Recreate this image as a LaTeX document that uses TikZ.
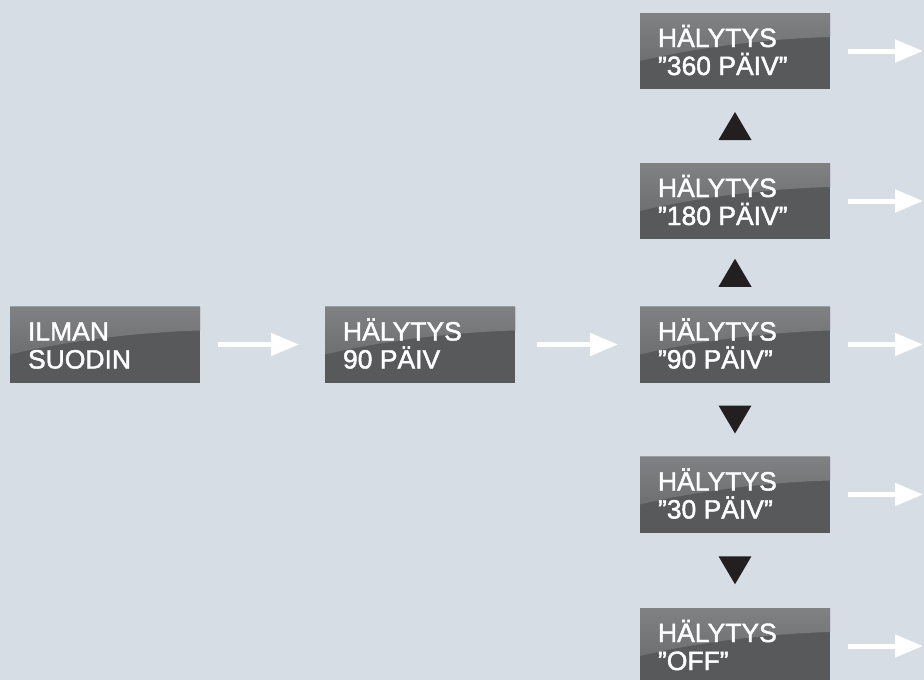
\documentclass[tikz,border=0pt]{standalone}
\usepackage{fontspec}
\setmainfont{Liberation Sans}
\newfontfamily\boxfont[FakeBold=1.6]{Liberation Sans}
\usetikzlibrary{arrows.meta,calc}
\definecolor{bgc}{RGB}{214,221,228}
\definecolor{boxdark}{RGB}{88,89,91}
\definecolor{glosstop}{RGB}{128,129,131}
\definecolor{glossbot}{RGB}{100,101,103}
\definecolor{tric}{RGB}{35,31,32}
\newcommand{\boxtext}[2]{\parbox[c][76pt][t]{190pt}{\raggedright\leftskip=18pt\relax\boxfont\fontsize{26.5pt}{28pt}\selectfont\rule{0pt}{34pt}#1\\#2}}
\begin{document}
\begin{tikzpicture}[x=1pt,y=-1pt,
  box/.style={rectangle, inner sep=0pt, outer sep=0pt, fill=boxdark, text=white,
    path picture={
      \fill[top color=glosstop, bottom color=glossbot]
        (path picture bounding box.north west) -- (path picture bounding box.north east)
        -- ($(path picture bounding box.north east)+(0,24)$)
        .. controls ($(path picture bounding box.north west)+(120,26)$) and ($(path picture bounding box.north west)+(50,36)$)
        .. ($(path picture bounding box.north west)+(0,48)$) -- cycle;
    }},
  warrow/.style={draw=white, line width=5pt, -{Triangle[length=28pt,width=22pt]}},
  updown/.style={fill=tric}
]
\fill[bgc] (0,0) rectangle (924,680);
\useasboundingbox (0,0) rectangle (924,680);
\coordinate (edge) at (923,0);

\node[box] (b1) at (105,344.5) {\boxtext{ILMAN}{SUODIN}};
\node[box] (b2) at (420,344.5) {\boxtext{HÄLYTYS}{90 PÄIV}};
\node[box] (r1) at (735,51) {\boxtext{HÄLYTYS}{”360 PÄIV”}};
\node[box] (r2) at (735,201) {\boxtext{HÄLYTYS}{”180 PÄIV”}};
\node[box] (r3) at (735,344.5) {\boxtext{HÄLYTYS}{”90 PÄIV”}};
\node[box] (r4) at (735,494.5) {\boxtext{HÄLYTYS}{”30 PÄIV”}};
\node[box] (r5) at (735,646) {\boxtext{HÄLYTYS}{”OFF”}};

\draw[warrow] ([xshift=18pt]b1.east) -- ([xshift=-26pt]b2.west);
\draw[warrow] ([xshift=22pt]b2.east) -- ([xshift=-22pt]r3.west);
\foreach \n in {r1,r2,r3,r4,r5}
  \draw[warrow] ([xshift=18pt]\n.east) -- (\n.east -| edge);

\fill[updown] ($(r1.south)!0.5!(r2.north)+(-16.5,14)$) -- ++(33,0) -- ++(-16.5,-28) -- cycle;
\fill[updown] ($(r2.south)!0.5!(r3.north)+(-16.5,14)$) -- ++(33,0) -- ++(-16.5,-28) -- cycle;
\fill[updown] ($(r3.south)!0.5!(r4.north)+(-16.5,-14)$) -- ++(33,0) -- ++(-16.5,28) -- cycle;
\fill[updown] ($(r4.south)!0.5!(r5.north)+(-16.5,-14)$) -- ++(33,0) -- ++(-16.5,28) -- cycle;
\end{tikzpicture}
\end{document}
